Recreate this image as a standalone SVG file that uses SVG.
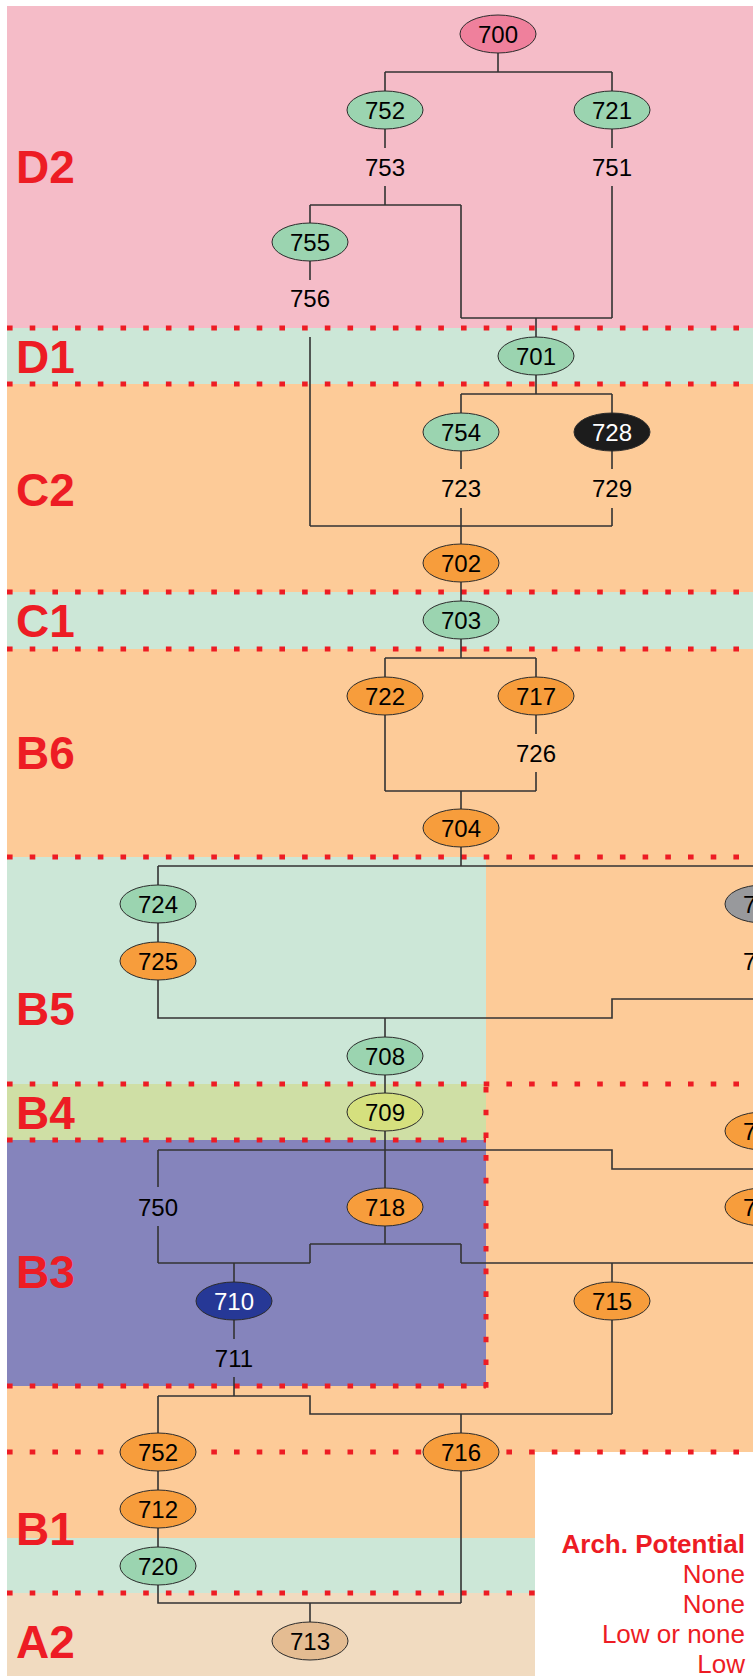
<svg xmlns="http://www.w3.org/2000/svg" width="753" height="1676" viewBox="0 0 753 1676">
<style>
.n{stroke:#2b2b2b;stroke-width:1}
.t{font-family:"Liberation Sans",Arial,sans-serif;font-size:24px;text-anchor:middle;fill:#000}
.w{fill:#fff}
.lb{font-family:"Liberation Sans",Arial,sans-serif;font-size:46px;font-weight:bold;fill:#ED1C24}
.lg{font-family:"Liberation Sans",Arial,sans-serif;font-size:26px;fill:#ED1C24;text-anchor:end}
.c{fill:none;stroke:#333;stroke-width:1.6}
.d{fill:none;stroke:#ED1C24;stroke-width:5;stroke-dasharray:5.6 17.1}
.g{fill:#9BD4B0}.o{fill:#F79D3C}
</style>
<g id="bands">
<rect x="7" y="6" width="746" height="322" fill="#F5BCC8"/>
<rect x="7" y="328" width="746" height="56" fill="#CCE7D7"/>
<rect x="7" y="384" width="746" height="208" fill="#FDCB98"/>
<rect x="7" y="592" width="746" height="57" fill="#CCE7D7"/>
<rect x="7" y="649" width="746" height="208" fill="#FDCB98"/>
<rect x="7" y="857" width="746" height="595" fill="#FDCB98"/>
<rect x="7" y="857" width="479" height="227" fill="#CCE7D7"/>
<rect x="7" y="1084" width="479" height="56" fill="#CFDFA5"/>
<rect x="7" y="1140" width="479" height="246" fill="#8584BC"/>
<rect x="7" y="1452" width="528" height="86" fill="#FDCB98"/>
<rect x="7" y="1538" width="528" height="55" fill="#CCE7D7"/>
<rect x="7" y="1593" width="528" height="83" fill="#F1DBC0"/>
</g>
<g id="dots">
<line class="d" x1="7" y1="328" x2="753" y2="328"/>
<line class="d" x1="7" y1="384" x2="753" y2="384"/>
<line class="d" x1="7" y1="592" x2="753" y2="592"/>
<line class="d" x1="7" y1="649" x2="753" y2="649"/>
<line class="d" x1="7" y1="857" x2="753" y2="857"/>
<line class="d" x1="7" y1="1084" x2="753" y2="1084"/>
<line class="d" x1="7" y1="1140" x2="486" y2="1140"/>
<line class="d" x1="7" y1="1386" x2="486" y2="1386"/>
<line class="d" x1="486" y1="1087" x2="486" y2="1390"/>
<line class="d" x1="7" y1="1452" x2="753" y2="1452"/>
<line class="d" x1="7" y1="1593" x2="535" y2="1593"/>
</g>
<g id="labels">
<text class="lb" x="16" y="183">D2</text>
<text class="lb" x="16" y="373">D1</text>
<text class="lb" x="16" y="506">C2</text>
<text class="lb" x="16" y="637">C1</text>
<text class="lb" x="16" y="769">B6</text>
<text class="lb" x="16" y="1025">B5</text>
<text class="lb" x="16" y="1129">B4</text>
<text class="lb" x="16" y="1288">B3</text>
<text class="lb" x="16" y="1545">B1</text>
<text class="lb" x="16" y="1658">A2</text>
</g>
<g id="connectors">
<path class="c" d="M498 53V72M385 72H612M385 72V91M612 72V91"/>
<path class="c" d="M385 129V148M385 186V205M310 205H461M310 205V223M461 205V318"/>
<path class="c" d="M612 129V148M612 186V318M461 318H612M536 318V337"/>
<path class="c" d="M310 261V280M310 337V526"/>
<path class="c" d="M536 375V394M461 394H612M461 394V413M612 394V413"/>
<path class="c" d="M461 451V469M461 508V526M612 451V469M612 508V526M310 526H612M461 526V544"/>
<path class="c" d="M461 582V601"/>
<path class="c" d="M461 639V658M385 658H536M385 658V677M536 658V677"/>
<path class="c" d="M385 715V791M536 715V734M536 772V791M385 791H536M461 791V809"/>
<path class="c" d="M461 847V866M158 866H753M158 866V885"/>
<path class="c" d="M158 923V942"/>
<path class="c" d="M158 980V1018H612V999H753M385 1018V1037"/>
<path class="c" d="M385 1075V1093"/>
<path class="c" d="M385 1131V1188M158 1150H612V1169H753M158 1150V1187M158 1226V1263"/>
<path class="c" d="M385 1226V1244M310 1244H461M310 1244V1263M461 1244V1263M158 1263H310M461 1263H753M234 1263V1282M612 1263V1282"/>
<path class="c" d="M234 1320V1339M234 1377V1396M158 1396H310V1414H612M612 1320V1414M158 1396V1433M461 1414V1433"/>
<path class="c" d="M158 1471V1490M158 1528V1547"/>
<path class="c" d="M158 1585V1603H461M461 1471V1603M310 1603V1622"/>
</g>
<g id="n700"><ellipse class="n" cx="498" cy="34" rx="38" ry="19" fill="#EF809C"/><text class="t" x="498" y="42.5">700</text></g>
<g id="n752a"><ellipse class="n g" cx="385" cy="110" rx="38" ry="19"/><text class="t" x="385" y="118.5">752</text></g>
<g id="n721"><ellipse class="n g" cx="612" cy="110" rx="38" ry="19"/><text class="t" x="612" y="118.5">721</text></g>
<g id="n753"><text class="t" x="385" y="175.5">753</text></g>
<g id="n751"><text class="t" x="612" y="175.5">751</text></g>
<g id="n755"><ellipse class="n g" cx="310" cy="242" rx="38" ry="19"/><text class="t" x="310" y="250.5">755</text></g>
<g id="n756"><text class="t" x="310" y="307">756</text></g>
<g id="n701"><ellipse class="n g" cx="536" cy="356" rx="38" ry="19"/><text class="t" x="536" y="364.5">701</text></g>
<g id="n754"><ellipse class="n g" cx="461" cy="432" rx="38" ry="19"/><text class="t" x="461" y="440.5">754</text></g>
<g id="n728"><ellipse class="n" cx="612" cy="432" rx="38" ry="19" fill="#1C1C1C"/><text class="t w" x="612" y="440.5">728</text></g>
<g id="n723"><text class="t" x="461" y="496.5">723</text></g>
<g id="n729"><text class="t" x="612" y="496.5">729</text></g>
<g id="n702"><ellipse class="n o" cx="461" cy="563" rx="38" ry="19"/><text class="t" x="461" y="571.5">702</text></g>
<g id="n703"><ellipse class="n g" cx="461" cy="620" rx="38" ry="19"/><text class="t" x="461" y="628.5">703</text></g>
<g id="n722"><ellipse class="n o" cx="385" cy="696" rx="38" ry="19"/><text class="t" x="385" y="704.5">722</text></g>
<g id="n717"><ellipse class="n o" cx="536" cy="696" rx="38" ry="19"/><text class="t" x="536" y="704.5">717</text></g>
<g id="n726"><text class="t" x="536" y="761.5">726</text></g>
<g id="n704"><ellipse class="n o" cx="461" cy="828" rx="38" ry="19"/><text class="t" x="461" y="836.5">704</text></g>
<g id="n724"><ellipse class="n g" cx="158" cy="904" rx="38" ry="19"/><text class="t" x="158" y="912.5">724</text></g>
<g id="n725"><ellipse class="n o" cx="158" cy="961" rx="38" ry="19"/><text class="t" x="158" y="969.5">725</text></g>
<g id="nR1"><ellipse class="n" cx="763" cy="904" rx="38" ry="19" fill="#98999C"/><text class="t" x="743" y="912.5" style="text-anchor:start">7</text></g>
<g id="nR2"><text class="t" x="743" y="969.5" style="text-anchor:start">7</text></g>
<g id="n708"><ellipse class="n g" cx="385" cy="1056" rx="38" ry="19"/><text class="t" x="385" y="1064.5">708</text></g>
<g id="n709"><ellipse class="n" cx="385" cy="1112" rx="38" ry="19" fill="#D5E07E"/><text class="t" x="385" y="1120.5">709</text></g>
<g id="nR3"><ellipse class="n o" cx="763" cy="1131" rx="38" ry="19"/><text class="t" x="743" y="1139.5" style="text-anchor:start">7</text></g>
<g id="n750"><text class="t" x="158" y="1215.5">750</text></g>
<g id="n718"><ellipse class="n o" cx="385" cy="1207" rx="38" ry="19"/><text class="t" x="385" y="1215.5">718</text></g>
<g id="nR4"><ellipse class="n o" cx="763" cy="1207" rx="38" ry="19"/><text class="t" x="743" y="1215.5" style="text-anchor:start">7</text></g>
<g id="n710"><ellipse class="n" cx="234" cy="1301" rx="38" ry="19" fill="#263896"/><text class="t w" x="234" y="1309.5">710</text></g>
<g id="n715"><ellipse class="n o" cx="612" cy="1301" rx="38" ry="19"/><text class="t" x="612" y="1309.5">715</text></g>
<g id="n711"><text class="t" x="234" y="1366.5">711</text></g>
<g id="n752b"><ellipse class="n o" cx="158" cy="1452" rx="38" ry="19"/><text class="t" x="158" y="1460.5">752</text></g>
<g id="n716"><ellipse class="n o" cx="461" cy="1452" rx="38" ry="19"/><text class="t" x="461" y="1460.5">716</text></g>
<g id="n712"><ellipse class="n o" cx="158" cy="1509" rx="38" ry="19"/><text class="t" x="158" y="1517.5">712</text></g>
<g id="n720"><ellipse class="n g" cx="158" cy="1566" rx="38" ry="19"/><text class="t" x="158" y="1574.5">720</text></g>
<g id="n713"><ellipse class="n" cx="310" cy="1641" rx="38" ry="19" fill="#E4BC92"/><text class="t" x="310" y="1649.5">713</text></g>
<g id="legend">
<text class="lg" x="745" y="1553" font-weight="bold">Arch. Potential</text>
<text class="lg" x="745" y="1583">None</text>
<text class="lg" x="745" y="1613">None</text>
<text class="lg" x="745" y="1643">Low or none</text>
<text class="lg" x="745" y="1673">Low</text>
</g>
</svg>
